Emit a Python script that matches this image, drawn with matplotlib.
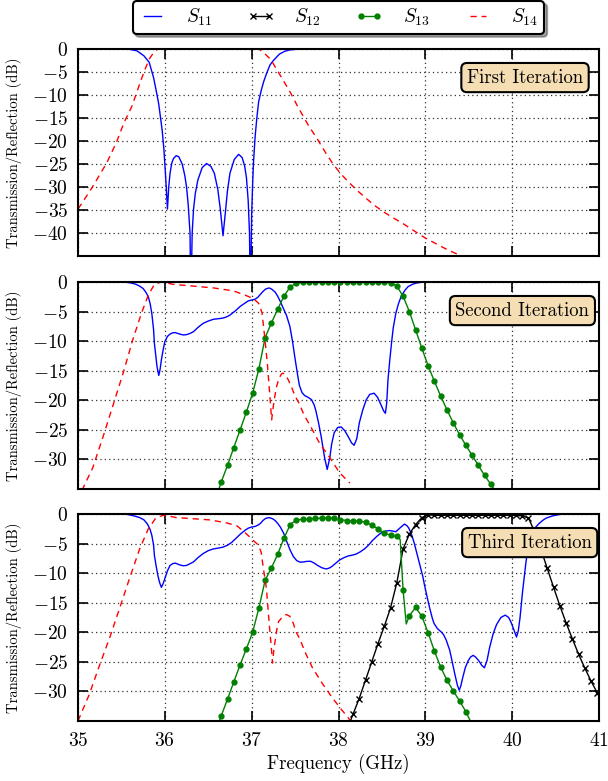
import numpy as np
import matplotlib
matplotlib.use("Agg")
import matplotlib.pyplot as plt

plt.rcParams.update({
    "font.family": "serif",
    "font.serif": ["cmr10"],
    "mathtext.fontset": "cm",
    "axes.formatter.use_mathtext": True,
    "axes.linewidth": 1.5,
    "xtick.direction": "in",
    "ytick.direction": "in",
    "xtick.top": True,
    "ytick.right": True,
    "xtick.major.size": 7,
    "ytick.major.size": 7,
    "xtick.major.width": 1.2,
    "ytick.major.width": 1.2,
    "xtick.major.pad": 8,
    "ytick.major.pad": 7,
    "xtick.labelsize": 14,
    "ytick.labelsize": 14,
})

# ---------------- data ----------------
# Panel 1 (First Iteration)
s11_1_f = [35.50, 35.60, 35.68, 35.76, 35.82, 35.87, 35.90, 35.93, 35.97, 35.99, 36.01, 36.03,
           36.045, 36.06, 36.08, 36.10, 36.13, 36.16, 36.20, 36.23, 36.25, 36.27, 36.29, 36.30,
           36.315, 36.33, 36.35, 36.38, 36.43, 36.48, 36.53, 36.57, 36.61, 36.64, 36.67, 36.70,
           36.72, 36.75, 36.80, 36.85, 36.89, 36.92, 36.94, 36.96, 36.975, 36.985, 37.00, 37.01,
           37.02, 37.04, 37.06, 37.08, 37.11, 37.14, 37.17, 37.21, 37.25, 37.32, 37.38, 37.44,
           37.52, 37.60]
s11_1_v = [0.0, -0.1, -0.4, -1.5, -2.9, -6.2, -9.0, -12.0, -17.8, -22.0, -28.0, -34.8,
           -30.0, -27.0, -24.8, -23.8, -23.2, -23.4, -25.0, -27.5, -30.0, -34.0, -40.0, -55.0,
           -40.0, -35.0, -31.5, -28.5, -25.8, -24.9, -25.5, -27.0, -30.5, -35.0, -40.6, -35.0,
           -31.0, -27.0, -24.0, -22.9, -23.6, -25.5, -28.0, -33.0, -40.0, -55.0, -36.0, -30.0,
           -25.0, -19.0, -14.9, -11.5, -9.0, -7.0, -5.4, -3.5, -2.5, -1.1, -0.5, -0.2,
           -0.05, 0.0]

s14_1_f = [35.00, 35.16, 35.33, 35.44, 35.53, 35.62, 35.71, 35.76, 35.82, 35.87, 35.91, 35.95,
           36.50, 37.07, 37.09, 37.15, 37.22, 37.29, 37.36, 37.45, 37.53, 37.65, 37.76, 37.85,
           37.93, 38.02, 38.11, 38.20, 38.29, 38.40, 38.51, 38.62, 38.73, 38.86, 39.00, 39.11,
           39.22, 39.32, 39.42, 39.50]
s14_1_v = [-34.8, -30.2, -24.8, -20.4, -16.0, -12.5, -7.6, -5.0, -2.2, -0.8, -0.1, 0.0,
           0.0, 0.0, -0.1, -1.0, -2.3, -4.5, -6.7, -9.6, -12.5, -16.5, -19.7, -22.5,
           -24.8, -27.0, -28.8, -30.5, -32.0, -33.8, -35.3, -36.6, -37.8, -39.4, -41.1, -42.2,
           -43.3, -44.2, -45.0, -45.7]

# Panel 2 (Second Iteration)
s11_2_f = [35.50, 35.56, 35.62, 35.67, 35.71, 35.75, 35.78, 35.81, 35.83, 35.85, 35.87, 35.88,
           35.90, 35.91, 35.93, 35.945, 35.96, 35.98, 36.00, 36.03, 36.06, 36.09, 36.12, 36.17,
           36.21, 36.25, 36.29, 36.33, 36.38, 36.44, 36.50, 36.56, 36.62, 36.67, 36.71, 36.75,
           36.81, 36.87, 36.92, 36.96, 37.00, 37.04, 37.07, 37.10, 37.13, 37.16, 37.20, 37.23,
           37.27, 37.30, 37.33, 37.36, 37.40, 37.44, 37.47, 37.50, 37.53, 37.55, 37.58, 37.61,
           37.65, 37.69, 37.72, 37.74, 37.77, 37.80, 37.84, 37.87, 37.90, 37.92, 37.95, 37.99,
           38.03, 38.07, 38.11, 38.15, 38.18, 38.21, 38.24, 38.28, 38.32, 38.36, 38.41, 38.45,
           38.49, 38.52, 38.54, 38.555, 38.57, 38.59, 38.61, 38.63, 38.66, 38.69, 38.72, 38.76,
           38.80, 38.85, 38.89, 38.95, 39.01]
s11_2_v = [0.0, -0.05, -0.2, -0.4, -0.7, -1.1, -1.7, -2.5, -3.6, -5.3, -8.0, -10.4,
           -13.0, -14.3, -15.8, -14.8, -13.2, -11.5, -10.1, -9.2, -8.8, -8.6, -8.55, -8.8,
           -8.95, -8.9, -8.7, -8.4, -7.7, -7.0, -6.6, -6.3, -6.2, -6.1, -5.9, -5.6,
           -4.9, -4.1, -3.6, -3.2, -3.05, -2.9, -2.6, -2.1, -1.6, -1.2, -1.0, -1.2,
           -1.7, -2.4, -3.3, -4.3, -5.6, -7.5, -10.0, -13.0, -15.8, -17.5, -18.7, -19.2,
           -19.5, -19.9, -20.8, -21.8, -23.8, -26.1, -29.7, -31.7, -29.7, -27.5, -25.5, -24.6,
           -24.5, -25.1, -26.1, -27.2, -27.6, -26.5, -23.8, -21.6, -19.9, -19.0, -18.8, -19.5,
           -20.8, -21.8, -22.2, -20.5, -16.5, -13.3, -10.4, -7.8, -5.3, -3.7, -2.5, -1.5,
           -0.8, -0.4, -0.2, -0.05, 0.0]

s14_2_f = [35.00, 35.06, 35.17, 35.29, 35.40, 35.52, 35.63, 35.73, 35.81, 35.88, 35.96, 36.10,
           36.33, 36.56, 36.79, 36.92, 37.02, 37.08, 37.10, 37.12, 37.15, 37.18, 37.21, 37.23,
           37.245, 37.26, 37.285, 37.31, 37.34, 37.36, 37.39, 37.42, 37.46, 37.50, 37.55, 37.60,
           37.67, 37.78, 37.90, 38.01, 38.07, 38.13]
s14_2_v = [-37.0, -34.8, -31.4, -26.1, -21.0, -15.4, -9.8, -5.3, -2.2, -0.4, 0.0, -0.4,
           -0.7, -1.0, -1.5, -2.2, -2.8, -3.6, -4.3, -5.3, -9.3, -13.7, -19.3, -23.3,
           -21.5, -19.9, -17.8, -16.5, -15.6, -15.4, -15.7, -16.5, -17.8, -19.3, -20.6, -22.4,
           -24.2, -27.2, -29.7, -32.2, -33.1, -34.0]

s13_2_f = [36.578, 36.650, 36.722, 36.794, 36.867, 36.939, 37.011, 37.083, 37.155, 37.228,
           37.300, 37.372, 37.444, 37.516, 37.589, 37.661, 37.733, 37.805, 37.877, 37.950,
           38.022, 38.094, 38.166, 38.238, 38.311, 38.383, 38.455, 38.527, 38.599, 38.672,
           38.744, 38.816, 38.888, 38.960, 39.033, 39.105, 39.177, 39.249, 39.321, 39.394,
           39.466, 39.538, 39.610, 39.682, 39.754, 39.826]
s13_2_v = [-37.0, -33.8, -31.0, -28.0, -25.0, -22.0, -18.8, -14.7, -9.4, -6.9,
           -4.6, -2.4, -0.8, -0.2, -0.05, -0.02, -0.02, -0.02, -0.02, -0.02,
           -0.02, -0.02, -0.02, -0.02, -0.02, -0.02, -0.02, -0.02, -0.15, -0.7,
           -2.4, -5.0, -8.1, -11.2, -14.2, -16.8, -19.3, -21.6, -23.8, -25.8,
           -27.6, -29.3, -31.0, -32.7, -34.2, -35.8]

# Panel 3 (Third Iteration)
s11_3_f = [35.50, 35.56, 35.64, 35.71, 35.76, 35.80, 35.83, 35.85, 35.87, 35.88, 35.90, 35.92,
           35.94, 35.96, 35.98, 36.00, 36.03, 36.06, 36.09, 36.12, 36.17, 36.21, 36.25, 36.29,
           36.33, 36.38, 36.44, 36.50, 36.56, 36.62, 36.67, 36.72, 36.77, 36.82, 36.87, 36.92,
           36.96, 37.00, 37.04, 37.07, 37.10, 37.13, 37.16, 37.20, 37.24, 37.27, 37.30, 37.33,
           37.37, 37.40, 37.44, 37.48, 37.52, 37.56, 37.60, 37.64, 37.68, 37.72, 37.76, 37.81,
           37.86, 37.90, 37.93, 37.97, 38.01, 38.06, 38.11, 38.16, 38.20, 38.25, 38.30, 38.35,
           38.39, 38.44, 38.49, 38.54, 38.59, 38.63, 38.66, 38.69, 38.72, 38.76, 38.79, 38.81,
           38.84, 38.87, 38.90, 38.94, 38.97, 38.99, 39.02, 39.05, 39.08, 39.10, 39.14, 39.18,
           39.21, 39.24, 39.28, 39.31, 39.34, 39.37, 39.39, 39.41, 39.43, 39.46, 39.49, 39.52,
           39.55, 39.58, 39.62, 39.65, 39.68, 39.71, 39.74, 39.78, 39.82, 39.87, 39.92, 39.96,
           39.99, 40.02, 40.05, 40.07, 40.09, 40.12, 40.14, 40.16, 40.18, 40.20, 40.23, 40.26,
           40.31, 40.35, 40.39, 40.47, 40.56, 40.65]
s11_3_v = [0.0, -0.05, -0.3, -0.6, -1.0, -1.7, -2.6, -3.6, -5.2, -7.0, -8.8, -10.4,
           -11.6, -12.4, -11.8, -10.9, -9.6, -8.7, -8.4, -8.3, -8.6, -8.75, -8.7, -8.4,
           -8.1, -7.4, -6.7, -6.2, -5.9, -5.75, -5.6, -5.3, -4.8, -4.1, -3.4, -2.8,
           -2.4, -2.2, -2.1, -1.9, -1.6, -1.1, -0.75, -0.6, -0.8, -1.1, -1.6, -2.2,
           -3.3, -4.5, -6.0, -7.2, -7.9, -8.15, -8.1, -8.0, -8.0, -8.3, -8.7, -9.1,
           -9.3, -9.1, -8.8, -8.3, -7.8, -7.4, -7.1, -6.95, -6.8, -6.4, -5.9, -5.2,
           -4.5, -3.8, -3.2, -2.9, -2.8, -2.9, -3.0, -2.6, -2.2, -1.7, -2.0, -2.4,
           -3.4, -4.8, -6.5, -8.7, -10.5, -12.0, -14.0, -15.9, -17.6, -18.5, -19.4, -19.9,
           -20.4, -21.3, -23.0, -25.0, -27.1, -29.0, -29.8, -29.0, -27.7, -26.0, -24.9, -24.2,
           -23.9, -24.2, -24.9, -25.6, -26.0, -24.8, -22.6, -20.3, -18.7, -17.5, -17.1, -17.5,
           -18.4, -19.6, -20.8, -19.8, -17.6, -13.1, -10.5, -8.0, -6.2, -4.7, -3.3, -2.4,
           -1.6, -1.1, -0.7, -0.3, -0.05, 0.0]

s14_3_f = [35.00, 35.13, 35.25, 35.37, 35.48, 35.60, 35.71, 35.81, 35.90, 35.99, 36.13, 36.33,
           36.52, 36.71, 36.83, 36.92, 37.00, 37.08, 37.11, 37.13, 37.17, 37.20, 37.23, 37.24,
           37.255, 37.27, 37.29, 37.31, 37.36, 37.40, 37.44, 37.48, 37.51, 37.56, 37.61, 37.70,
           37.82, 37.93, 38.03, 38.11, 38.15]
s14_3_v = [-35.0, -30.5, -25.5, -20.7, -15.9, -10.6, -5.9, -2.5, -0.6, -0.2, -0.6, -0.8,
           -1.0, -1.5, -2.0, -3.1, -4.2, -5.3, -6.5, -8.7, -12.6, -18.2, -23.2, -25.2,
           -23.0, -21.5, -19.5, -18.2, -17.3, -17.0, -17.3, -18.5, -19.9, -21.3, -23.2, -26.0,
           -28.8, -31.1, -33.0, -34.4, -35.3]

# S13 (third iteration): marker samples and extra line-only samples
s13_3_f = [36.578, 36.650, 36.722, 36.794, 36.867, 36.939, 37.011, 37.083, 37.155, 37.228,
           37.300, 37.372, 37.444, 37.516, 37.589, 37.661, 37.733, 37.805, 37.877, 37.950,
           38.022, 38.094, 38.166, 38.238, 38.311, 38.383, 38.455, 38.527, 38.599, 38.672,
           38.744, 38.816, 38.888, 38.960, 39.033, 39.105, 39.177, 39.249, 39.321, 39.394,
           39.466, 39.538]
s13_3_v = [-37.0, -34.1, -31.3, -28.4, -25.5, -22.8, -20.0, -15.9, -11.2, -9.1,
           -6.8, -4.1, -1.8, -1.0, -0.9, -0.85, -0.75, -0.7, -0.65, -0.7,
           -0.95, -1.1, -1.2, -1.2, -1.4, -1.9, -2.5, -3.2, -3.6, -3.8,
           -12.9, -17.2, -15.8, -17.3, -20.1, -23.2, -25.9, -28.1, -29.9, -31.6,
           -33.4, -35.6]
s13_3_extra_f = [38.71, 38.78]
s13_3_extra_v = [-4.3, -18.6]

s12_3_f = [38.094, 38.166, 38.238, 38.311, 38.383, 38.455, 38.527, 38.599, 38.672, 38.744,
           38.816, 38.888, 38.960, 39.033, 39.105, 39.177, 39.249, 39.321, 39.394, 39.466,
           39.538, 39.610, 39.682, 39.754, 39.826, 39.899, 39.971, 40.043, 40.115, 40.188,
           40.260, 40.332, 40.404, 40.477, 40.549, 40.621, 40.693, 40.765, 40.838, 40.910,
           40.982, 41.054]
s12_3_v = [-36.6, -33.9, -31.2, -28.1, -25.0, -21.9, -19.0, -15.9, -11.6, -5.9,
           -3.4, -1.8, -0.6, -0.15, -0.2, -0.25, -0.2, -0.25, -0.2, -0.25,
           -0.2, -0.25, -0.2, -0.25, -0.2, -0.25, -0.2, -0.25, -0.3, -0.7,
           -3.0, -6.0, -9.2, -12.4, -15.5, -18.4, -21.1, -23.7, -26.1, -28.3,
           -30.3, -32.5]

xticks = [35, 36, 37, 38, 39, 40, 41]
titles = ["First Iteration", "Second Iteration", "Third Iteration"]
ylims = [(-45, 0), (-35, 0), (-35, 0)]
yticks_list = [list(range(-40, 1, 5)), list(range(-30, 1, 5)), list(range(-30, 1, 5))]
box_x = [0.858, 0.853, 0.867]

# ---------------- figure ----------------
fig = plt.figure(figsize=(6.08, 7.81), dpi=100)
left, width, height = 78 / 608, 521 / 608, 207 / 781
bottoms = [1 - 256 / 781, 1 - 489 / 781, 1 - 721 / 781]
axes = [fig.add_axes([left, b, width, height]) for b in bottoms]

blue, black, green, red = "#0000ff", "#000000", "#008000", "#ff0000"
kw11 = dict(color=blue, lw=1.0)
kw14 = dict(color=red, lw=1.0, ls=(0, (4.5, 3.5)))
kw13 = dict(color=green, lw=1.0, marker="o", ms=3.5, mec=green, mfc=green)
kw12 = dict(color=black, lw=1.0, marker="x", ms=5, mew=1.0)

ax1, ax2, ax3 = axes
ax1.plot(s11_1_f, s11_1_v, **kw11)
ax1.plot(s14_1_f, s14_1_v, **kw14)

ax2.plot(s11_2_f, s11_2_v, **kw11)
ax2.plot(s13_2_f, s13_2_v, **kw13)
ax2.plot(s14_2_f, s14_2_v, **kw14)

# third iteration
l11, = ax3.plot(s11_3_f, s11_3_v, **kw11)
l12, = ax3.plot(s12_3_f, s12_3_v, **kw12)
pts = sorted([(f, v, True) for f, v in zip(s13_3_f, s13_3_v)] +
             [(f, v, False) for f, v in zip(s13_3_extra_f, s13_3_extra_v)])
mk_idx = [i for i, p in enumerate(pts) if p[2]]
l13, = ax3.plot([p[0] for p in pts], [p[1] for p in pts], markevery=mk_idx, **kw13)
l14, = ax3.plot(s14_3_f, s14_3_v, **kw14)

for i, ax in enumerate(axes):
    ax.set_xlim(35, 41)
    ax.set_ylim(*ylims[i])
    ax.set_xticks(xticks)
    ax.set_yticks(yticks_list[i])
    ax.grid(True, color="0.2", ls=(0, (1, 2.5)), lw=0.9)
    ax.set_ylabel("Transmission/Reflection (dB)", fontsize=10.5)
    ax.yaxis.set_label_coords(-0.108, 0.5)
    ax.text(box_x[i], 0.862, titles[i], transform=ax.transAxes, ha="center", va="center",
            fontsize=13.5, zorder=10,
            bbox=dict(boxstyle="round,pad=0.3", fc="#f5deb3", ec="black", lw=1.5))
    if i < 2:
        ax.tick_params(labelbottom=False)

ax3.set_xlabel("Frequency (GHz)", fontsize=13.5, labelpad=3)

leg = fig.legend([l11, l12, l13, l14], [r"$S_{11}$", r"$S_{12}$", r"$S_{13}$", r"$S_{14}$"],
                 loc="lower center", bbox_to_anchor=(338.5 / 608, 1 - 34 / 781), ncol=4,
                 fontsize=14, handlelength=1.45, handletextpad=1.0, columnspacing=1.75,
                 numpoints=2, fancybox=True, shadow=True, borderaxespad=0, borderpad=0.3,
                 framealpha=1, edgecolor="black")
leg.get_frame().set_linewidth(1.5)

fig.savefig("out.png", dpi=100, facecolor="white")
